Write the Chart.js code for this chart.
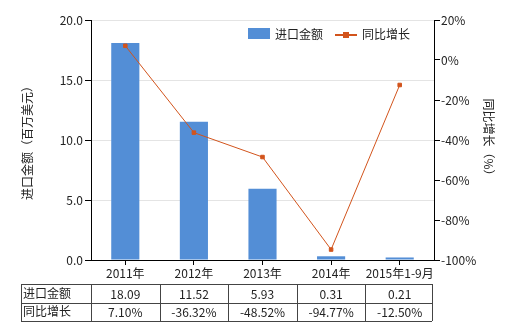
<!DOCTYPE html>
<html>
<head>
<meta charset="utf-8">
<script src="https://cdn.jsdelivr.net/npm/chart.js@4"></script>
<style>
    body { margin: 0; background: #fff; }
    #wrap { width: 520px; height: 330px; position: relative; }
</style>
</head>
<body>
<div id="wrap"><canvas id="importChart" width="520" height="330"></canvas></div>
<script>
// Chart data
const categories = ['2011年', '2012年', '2013年', '2014年', '2015年1-9月'];
const importValues = [18.09, 11.52, 5.93, 0.31, 0.21];
const growthValues = [7.10, -36.32, -48.52, -94.77, -12.50];
const seriesNames = ['进口金额', '同比增长'];

const FONT = '"Noto Sans CJK SC", "DejaVu Sans", sans-serif';
const barColor = '#538ed6';
const lineColor = '#d2541c';

// Legend + data table drawn on the canvas
const extrasPlugin = {
    id: 'extras',
    afterDraw(chart) {
        const ctx = chart.ctx;
        const xScale = chart.scales.x;
        ctx.save();
        ctx.font = '12px ' + FONT;
        ctx.fillStyle = '#222';
        ctx.textBaseline = 'middle';

        // legend
        ctx.fillStyle = barColor;
        ctx.fillRect(248, 28, 22, 11);
        ctx.fillStyle = '#222';
        ctx.textAlign = 'left';
        ctx.fillText(seriesNames[0], 275, 34);
        ctx.strokeStyle = lineColor;
        ctx.lineWidth = 2;
        ctx.beginPath();
        ctx.moveTo(335, 35);
        ctx.lineTo(357, 35);
        ctx.stroke();
        ctx.fillStyle = lineColor;
        ctx.fillRect(343, 32, 6, 6);
        ctx.fillStyle = '#222';
        ctx.fillText(seriesNames[1], 362, 34);

        // data table
        const top = 284, rowH = 18.5;
        const left = 21;
        const step = (xScale.right - xScale.left) / categories.length;
        const right = xScale.right - 2;
        ctx.strokeStyle = '#444';
        ctx.lineWidth = 1;
        ctx.beginPath();
        for (let r = 0; r <= 2; r++) {
            const y = Math.round(top + r * rowH) + 0.5;
            ctx.moveTo(left, y);
            ctx.lineTo(right, y);
        }
        ctx.moveTo(left + 0.5, top);
        ctx.lineTo(left + 0.5, top + 2 * rowH);
        for (let c = 0; c <= categories.length; c++) {
            const x = Math.round(Math.min(xScale.left + c * step, right)) + 0.5;
            ctx.moveTo(x, top);
            ctx.lineTo(x, top + 2 * rowH);
        }
        ctx.stroke();

        ctx.textAlign = 'left';
        ctx.fillText(seriesNames[0], left + 2, top + rowH / 2);
        ctx.fillText(seriesNames[1], left + 2, top + rowH * 1.5);
        ctx.textAlign = 'center';
        categories.forEach((c, i) => {
            const x = xScale.getPixelForValue(i);
            ctx.fillText(importValues[i].toFixed(2), x, top + rowH / 2 + 1);
            ctx.fillText(growthValues[i].toFixed(2) + '%', x, top + rowH * 1.5 + 1);
        });
        ctx.restore();
    }
};

function createChart() {
    const ctx = document.getElementById('importChart').getContext('2d');
    new Chart(ctx, {
        data: {
            labels: categories,
            datasets: [
                {
                    type: 'line',
                    label: seriesNames[1],
                    data: growthValues,
                    yAxisID: 'y1',
                    borderColor: lineColor,
                    backgroundColor: lineColor,
                    borderWidth: 1,
                    pointStyle: 'rect',
                    pointRadius: 2.5,
                    tension: 0
                },
                {
                    type: 'bar',
                    label: seriesNames[0],
                    data: importValues,
                    yAxisID: 'y',
                    backgroundColor: barColor,
                    barPercentage: 0.82,
                    categoryPercentage: 0.5
                }
            ]
        },
        options: {
            responsive: false,
            animation: false,
            layout: { padding: { top: 20, bottom: 0, left: 0, right: 0 } },
            plugins: {
                legend: { display: false },
                tooltip: { enabled: false }
            },
            scales: {
                x: {
                    offset: true,
                    grid: {
                        offset: false,
                        drawOnChartArea: false,
                        drawTicks: true,
                        tickLength: 5,
                        tickColor: '#000'
                    },
                    border: { color: '#000', width: 1 },
                    ticks: {
                        color: '#222',
                        font: { family: FONT, size: 12 },
                        padding: 1,
                        maxRotation: 0,
                        autoSkip: false
                    },
                    afterFit(scale) { scale.height = 70; }
                },
                y: {
                    position: 'left',
                    min: 0,
                    max: 20,
                    ticks: {
                        stepSize: 5,
                        color: '#222',
                        font: { family: FONT, size: 12 },
                        padding: 2,
                        callback: v => v.toFixed(1)
                    },
                    grid: { color: '#e4e4e4', tickColor: '#000', tickLength: 6 },
                    border: { color: '#000', width: 1 },
                    title: {
                        display: true,
                        text: '进口金额（百万美元）',
                        color: '#222',
                        font: { family: FONT, size: 12 },
                        padding: { top: 20, bottom: 0 }
                    },
                    afterFit(scale) { scale.width = 91; }
                },
                y1: {
                    position: 'right',
                    min: -100,
                    max: 20,
                    ticks: {
                        stepSize: 20,
                        color: '#222',
                        font: { family: FONT, size: 12 },
                        padding: 1,
                        callback: v => v + '%'
                    },
                    grid: { drawOnChartArea: false, tickColor: '#000', tickLength: 6 },
                    border: { color: '#000', width: 1 },
                    title: {
                        display: true,
                        text: '同比增长（%）',
                        color: '#222',
                        font: { family: FONT, size: 12 },
                        padding: { top: 24, bottom: 0 }
                    },
                    afterFit(scale) { scale.width = 86; }
                }
            }
        },
        plugins: [extrasPlugin]
    });
}

window.addEventListener('load', createChart);
</script>
</body>
</html>
